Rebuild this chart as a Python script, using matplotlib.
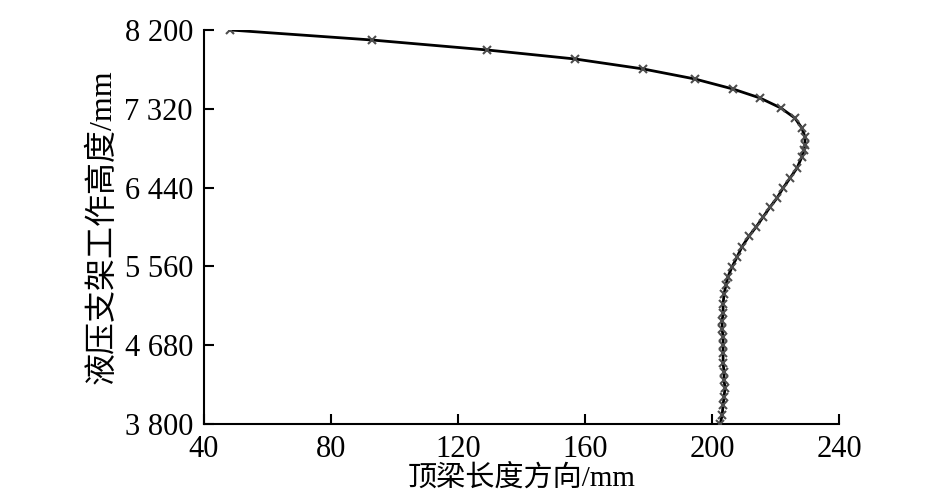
import matplotlib.pyplot as plt
import numpy as np

# displacement along roof beam (mm) vs support working height (mm)
beam_x = [48.2, 92.9, 129.1, 156.9, 178.3, 194.6, 206.6, 215.1, 221.7, 226.1,
          228.3, 229.3, 229.3, 229.0, 228.3, 226.8, 224.6, 222.4, 220.5, 218.3,
          216.1, 213.9, 211.7, 209.4, 207.9, 206.3, 205.0, 204.4, 203.8, 203.5,
          203.5, 203.2, 203.2, 203.5, 203.5, 203.5, 203.5, 203.8, 203.8, 204.1,
          203.8, 203.5, 203.2, 202.6]
height = [8200, 8088, 7977, 7876, 7765, 7653, 7541, 7441, 7329, 7217,
          7106, 7005, 6916, 6860, 6782, 6659, 6547, 6436, 6324, 6223,
          6112, 6000, 5900, 5777, 5665, 5553, 5442, 5352, 5252, 5140,
          5040, 4950, 4861, 4772, 4682, 4593, 4481, 4381, 4291, 4202,
          4102, 4012, 3901, 3800]

xticks = [40, 80, 120, 160, 200, 240]
yticks = [3800, 4680, 5560, 6440, 7320, 8200]
ytick_labels = ['3 800', '4 680', '5 560', '6 440', '7 320', '8 200']

fam = ['Liberation Serif', 'Noto Sans CJK SC']
plt.rcParams['font.family'] = fam

fig = plt.figure(figsize=(9.45, 5.03), dpi=100)
ax = fig.add_axes([0.2159, 0.157, 0.6719, 0.7834])

ax.plot(beam_x, height, '-', color='black', linewidth=2.0, zorder=2)
ax.plot(beam_x, height, 'x', color='#4d4d4d', markersize=6, mew=1.5, zorder=3)

ax.set_xlim(40, 240)
ax.set_ylim(3800, 8200)
ax.set_xticks(xticks)
ax.set_yticks(yticks)
ax.set_yticklabels(ytick_labels)

for s in ['top', 'right']:
    ax.spines[s].set_visible(False)
for s in ['left', 'bottom']:
    ax.spines[s].set_linewidth(1.5)

ax.tick_params(direction='in', length=7, width=1.5, labelsize=22)
ax.tick_params(axis='x', pad=8)
ax.tick_params(axis='y', pad=8)
ax.set_xlabel('顶梁长度方向/mm', fontsize=21, labelpad=0)
ax.set_ylabel('液压支架工作高度/mm', fontsize=23, labelpad=5)

plt.savefig('out.png', dpi=100)
